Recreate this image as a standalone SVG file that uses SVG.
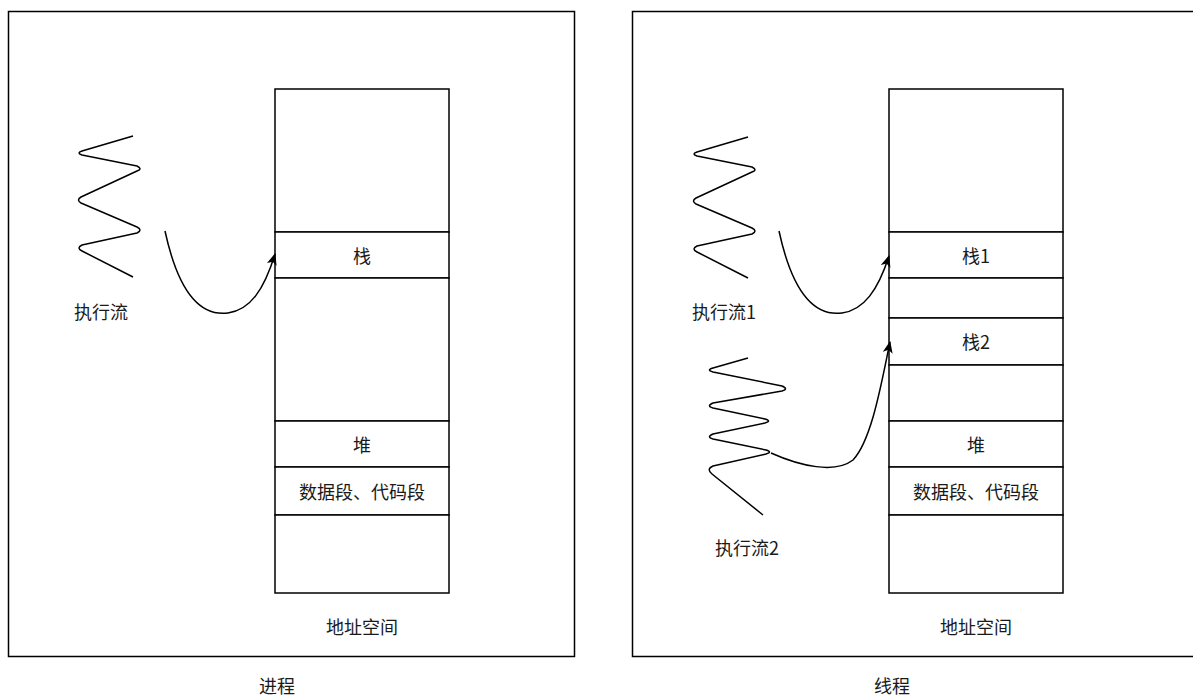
<svg xmlns="http://www.w3.org/2000/svg" width="1193" height="697" viewBox="0 0 1193 697">
<style>
.frame{fill:#ffffff;stroke:#000000;stroke-width:1.5}
.cell{fill:#ffffff;stroke:#000000;stroke-width:1.5}
.wave{fill:none;stroke:#000000;stroke-width:1.5;stroke-linejoin:round}
.conn{fill:none;stroke:#000000;stroke-width:1.5}
text{font-family:"Noto Sans CJK SC","Noto Sans",sans-serif;font-size:18px;fill:#1a1a1a;text-anchor:middle;dominant-baseline:central}
</style>
<defs>
<marker id="arr" viewBox="0 0 12 10" refX="11" refY="5" markerWidth="12" markerHeight="10" markerUnits="userSpaceOnUse" orient="auto">
<path d="M0,0 L12,5 L0,10 L3,5 z" fill="#000000"/>
</marker>
</defs>
<rect width="1193" height="697" fill="#ffffff"/>
<g id="process-frame"><rect class="frame" x="8.5" y="11.5" width="566" height="645"/></g>
<g id="thread-frame"><rect class="frame" x="632.5" y="11.5" width="580" height="645"/></g>

<g id="left-column">
<rect class="cell" x="275" y="89" width="174" height="143"/>
<rect class="cell" x="275" y="232" width="174" height="46"/>
<rect class="cell" x="275" y="278" width="174" height="143"/>
<rect class="cell" x="275" y="421" width="174" height="46"/>
<rect class="cell" x="275" y="467" width="174" height="48"/>
<rect class="cell" x="275" y="515" width="174" height="78"/>
<text x="362" y="255">栈</text>
<text x="362" y="444">堆</text>
<text x="362" y="491">数据段、代码段</text>
</g>
<g id="left-label-addr"><text x="362" y="626">地址空间</text></g>
<g id="left-title"><text x="277" y="685">进程</text></g>

<g id="left-flow">
<path class="wave" d="M133,136 L82,151 Q76,153 82,155 L137,166 Q143,169 137,171 L81,197 Q76,200 81,203 L137,227 Q143,230 137,233 L82,245 Q76,248 82,251 L133,277"/>
<text x="101" y="311">执行流</text>
</g>

<g id="right-column">
<rect class="cell" x="889" y="89" width="174" height="143"/>
<rect class="cell" x="889" y="232" width="174" height="46"/>
<rect class="cell" x="889" y="278" width="174" height="40"/>
<rect class="cell" x="889" y="318" width="174" height="47"/>
<rect class="cell" x="889" y="365" width="174" height="56"/>
<rect class="cell" x="889" y="421" width="174" height="46"/>
<rect class="cell" x="889" y="467" width="174" height="48"/>
<rect class="cell" x="889" y="515" width="174" height="78"/>
<text x="976" y="255">栈1</text>
<text x="976" y="341">栈2</text>
<text x="976" y="444">堆</text>
<text x="976" y="491">数据段、代码段</text>
</g>
<g id="right-label-addr"><text x="976" y="626">地址空间</text></g>
<g id="right-title"><text x="892" y="685">线程</text></g>

<g id="flow1">
<path class="wave" d="M748,137 L697,152 Q691,154 697,156 L752,167 Q758,170 752,172 L696,198 Q691,201 696,204 L752,228 Q758,231 752,234 L697,246 Q691,249 697,252 L748,278"/>
<text x="724" y="311">执行流1</text>
</g>
<g id="flow2">
<path class="wave" d="M748,358 L713,368 Q706,370 713,372 L782,386 Q789,389 782,391 L713,403 Q706,406 713,408 L765,419 Q772,421 765,423 L713,434 Q706,437 713,439 L766,450 Q773,452 766,454 L713,466 Q706,469 712,474 L763,515"/>
<text x="747" y="547">执行流2</text>
</g>

<g id="connectors">
<path class="conn" marker-end="url(#arr)" d="M165,231 C180,300 205,316 228,313 C250,310 264,290 275,254"/>
<path class="conn" marker-end="url(#arr)" d="M779,231 C794,300 819,316 842,313 C864,310 878,290 889,256"/>
<path class="conn" marker-end="url(#arr)" d="M771,453 C800,466 835,474 853,460 C872,440 882,380 890,342"/>
</g>
</svg>
